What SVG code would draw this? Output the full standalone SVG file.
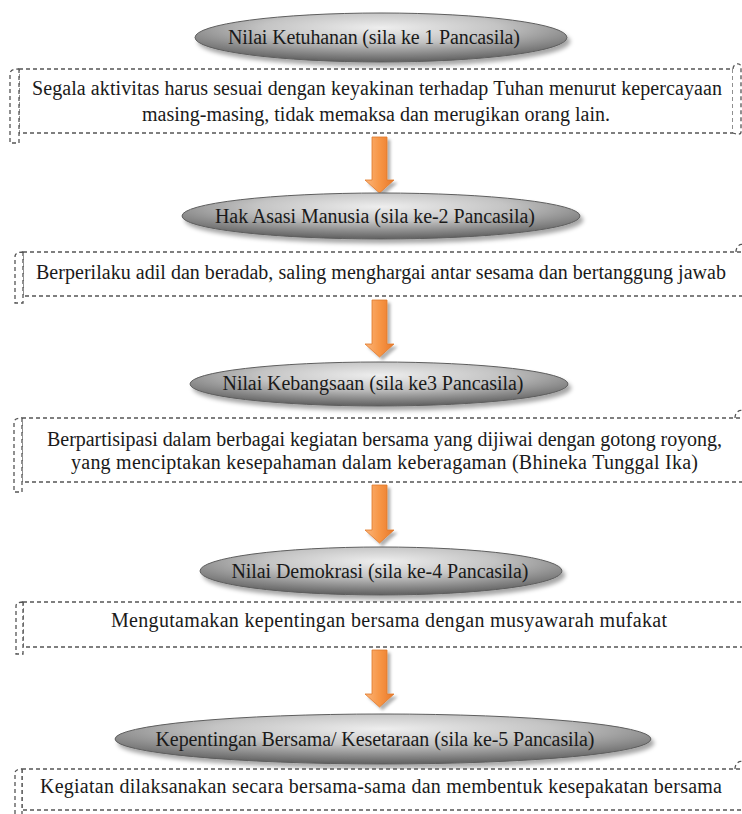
<svg xmlns="http://www.w3.org/2000/svg" width="742" height="814" viewBox="0 0 742 814">
<style>
.t{font-family:"Liberation Serif","Times New Roman",serif;font-size:20px;fill:#1a1a1a;text-anchor:middle}
.pill{fill:url(#pg);stroke:#5e5e5e;stroke-width:1;filter:url(#sh)}
.scroll{fill:#fff;stroke:#555;stroke-width:1.3;stroke-dasharray:4 3}
.arr{fill:url(#og);stroke:#e07a2c;stroke-width:0.8;filter:url(#sh2)}
</style>
<defs>
<radialGradient id="pg" cx="0.5" cy="0.3" r="0.7">
<stop offset="0" stop-color="#eeeeee"/>
<stop offset="0.45" stop-color="#c4c4c4"/>
<stop offset="1" stop-color="#5f5f5f"/>
</radialGradient>
<linearGradient id="og" x1="0" y1="0" x2="1" y2="0">
<stop offset="0" stop-color="#fbb57b"/>
<stop offset="0.5" stop-color="#f79646"/>
<stop offset="1" stop-color="#e8782a"/>
</linearGradient>
<filter id="sh" x="-10%" y="-30%" width="120%" height="170%">
<feDropShadow dx="3" dy="4" stdDeviation="2" flood-color="#000" flood-opacity="0.35"/>
</filter>
<filter id="sh2" x="-40%" y="-10%" width="180%" height="130%">
<feDropShadow dx="3" dy="3" stdDeviation="1.5" flood-color="#000" flood-opacity="0.3"/>
</filter>
</defs>

<g id="connectors">
<path class="arr" d="M372,137 H387 V180 H394 L379.5,193 L365,180 H372 Z"/>
<path class="arr" d="M372,300 H387 V344 H394 L379.5,357 L365,344 H372 Z"/>
<path class="arr" d="M372,485 H387 V530 H394 L379.5,543 L365,530 H372 Z"/>
<path class="arr" d="M372,650 H387 V694 H394 L379.5,707 L365,694 H372 Z"/>
</g>

<g id="n1">
<ellipse class="pill" cx="381" cy="37.5" rx="186" ry="24.5"/>
<text class="t" x="374" y="44" textLength="292" lengthAdjust="spacing">Nilai Ketuhanan (sila ke 1 Pancasila)</text>
</g>
<g id="b1">
<path class="scroll" d="M19,69 H733 V133 H19 Z"/>
<path class="scroll" fill="none" d="M733,69 C733,63 741,62 741,67 V132 C741,134 739,135 733,133"/>
<path class="scroll" d="M19,69 V143 H10 V74 C10,70 14,69 19,69"/>
<text class="t" x="377" y="95" textLength="690" lengthAdjust="spacing">Segala aktivitas harus sesuai dengan keyakinan terhadap Tuhan menurut kepercayaan</text>
<text class="t" x="376" y="121" textLength="468" lengthAdjust="spacing">masing-masing, tidak memaksa dan merugikan orang lain.</text>
</g>

<g id="n2">
<ellipse class="pill" cx="381" cy="216" rx="199" ry="23"/>
<text class="t" x="375" y="223" textLength="320" lengthAdjust="spacing">Hak Asasi Manusia (sila ke-2 Pancasila)</text>
</g>
<g id="b2">
<path class="scroll" d="M23,252 H760 V296 H23 Z"/>
<path class="scroll" fill="none" d="M736,252 C736,246 741,243 743,245"/>
<path class="scroll" d="M23,252 V303 H15 V257 C15,253 18,252 23,252"/>
<text class="t" x="381" y="279" textLength="690" lengthAdjust="spacing">Berperilaku adil dan beradab, saling menghargai antar sesama dan bertanggung jawab</text>
</g>

<g id="n3">
<ellipse class="pill" cx="379" cy="384" rx="189" ry="22"/>
<text class="t" x="373" y="390" textLength="301" lengthAdjust="spacing">Nilai Kebangsaan (sila ke3 Pancasila)</text>
</g>
<g id="b3">
<path class="scroll" d="M22,418 H760 V482 H22 Z"/>
<path class="scroll" fill="none" d="M735,418 C735,412 740,409 743,411"/>
<path class="scroll" d="M22,418 V492 H14 V423 C14,419 17,418 22,418"/>
<text class="t" x="384.5" y="446" textLength="675" lengthAdjust="spacing">Berpartisipasi dalam berbagai kegiatan bersama yang dijiwai dengan gotong royong,</text>
<text class="t" x="384.5" y="469" textLength="627" lengthAdjust="spacing">yang menciptakan kesepahaman dalam keberagaman (Bhineka Tunggal Ika)</text>
</g>

<g id="n4">
<ellipse class="pill" cx="381" cy="571" rx="181" ry="24"/>
<text class="t" x="380" y="578" textLength="297" lengthAdjust="spacing">Nilai Demokrasi (sila ke-4 Pancasila)</text>
</g>
<g id="b4">
<path class="scroll" d="M23,602 H760 V647 H23 Z"/>
<path class="scroll" d="M23,602 V654 H16 V606 C16,603 19,602 23,602"/>
<text class="t" x="389" y="627" textLength="556" lengthAdjust="spacing">Mengutamakan kepentingan bersama dengan musyawarah mufakat</text>
</g>

<g id="n5">
<ellipse class="pill" cx="383" cy="739" rx="268" ry="25"/>
<text class="t" x="375" y="746" textLength="439" lengthAdjust="spacing">Kepentingan Bersama/ Kesetaraan (sila ke-5 Pancasila)</text>
</g>
<g id="b5">
<path class="scroll" d="M22,769 H760 V810 H22 Z"/>
<path class="scroll" fill="none" d="M735,769 C735,763 740,760 743,762"/>
<path class="scroll" d="M22,769 V816 H15 V773 C15,770 18,769 22,769"/>
<text class="t" x="381" y="793" textLength="682" lengthAdjust="spacing">Kegiatan dilaksanakan secara bersama-sama dan membentuk kesepakatan bersama</text>
</g>
</svg>
